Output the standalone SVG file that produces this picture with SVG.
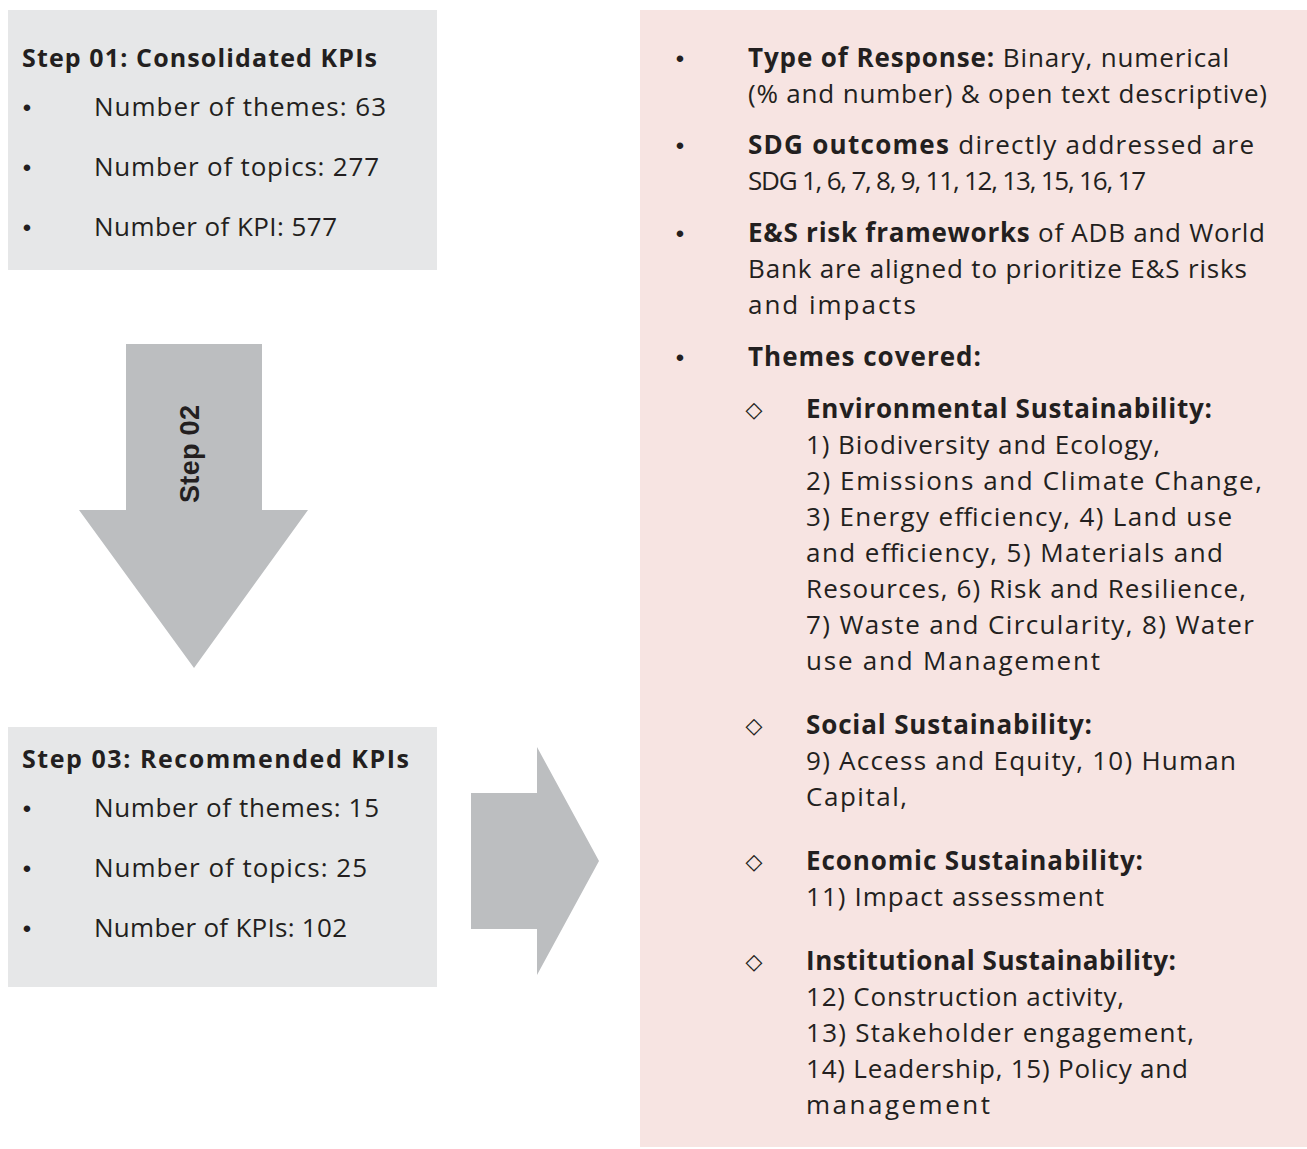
<svg xmlns="http://www.w3.org/2000/svg" width="1307" height="1149" viewBox="0 0 1307 1149">
  <style>
    .t { font-family: "Open Sans", "Noto Sans", "Liberation Sans", sans-serif; font-size: 26px; fill: #231F20; }
    .h { font-weight: 700; font-size: 25px; }
    .b { font-weight: 700; }
    .dot { font-family: "Liberation Sans", sans-serif; font-size: 24px; fill: #231F20; text-anchor: middle; }
    .dia { font-family: "DejaVu Sans", sans-serif; font-weight: 700; font-size: 22px; fill: #231F20; text-anchor: middle; }
    .box { fill: #E6E7E8; }
    .arrow { fill: #BCBEC0; }
    .step { font-family: "Liberation Sans", Arial, sans-serif; font-weight: 700; font-size: 27px; fill: #231F20; text-anchor: middle; }
  </style>

  <rect width="1307" height="1149" fill="#FFFFFF"/>

  <!-- Step 01 box -->
  <g id="step01">
    <rect class="box" x="8" y="10" width="429" height="260"/>
    <text class="t h" x="22" y="67" textLength="355">Step 01: Consolidated KPIs</text>
    <text class="dot" x="27" y="116">•</text>
    <text class="t" x="94" y="116" textLength="292">Number of themes: 63</text>
    <text class="dot" x="27" y="176">•</text>
    <text class="t" x="94" y="176" textLength="285">Number of topics: 277</text>
    <text class="dot" x="27" y="236">•</text>
    <text class="t" x="94" y="236" textLength="243">Number of KPI: 577</text>
  </g>

  <!-- Step 03 box -->
  <g id="step03">
    <rect class="box" x="8" y="727" width="429" height="260"/>
    <text class="t h" x="22" y="768" textLength="387">Step 03: Recommended KPIs</text>
    <text class="dot" x="27" y="817">•</text>
    <text class="t" x="94" y="817" textLength="285">Number of themes: 15</text>
    <text class="dot" x="27" y="877">•</text>
    <text class="t" x="94" y="877" textLength="273">Number of topics: 25</text>
    <text class="dot" x="27" y="937">•</text>
    <text class="t" x="94" y="937" textLength="253">Number of KPIs: 102</text>
  </g>

  <!-- Block arrows linking the steps -->
  <g id="connectors">
    <g id="step02-arrow">
      <polygon class="arrow" points="126,344 262,344 262,510 308,510 194,668 79,510 126,510"/>
      <text class="step" transform="translate(199,454) rotate(-90)" textLength="98">Step 02</text>
    </g>
    <g id="result-arrow">
      <polygon class="arrow" points="471,793 537,793 537,747 599,861 537,975 537,929 471,929"/>
    </g>
  </g>

  <!-- Summary panel -->
  <g id="summary">
    <rect x="640" y="10" width="667" height="1137" fill="#F7E4E2"/>

    <text class="dot" x="680" y="67">•</text>
    <text class="t" x="748" y="67" textLength="481"><tspan class="b">Type of Response:</tspan> Binary, numerical</text>
    <text class="t" x="748" y="103" textLength="519">(% and number) &amp; open text descriptive)</text>

    <text class="dot" x="680" y="154">•</text>
    <text class="t" x="748" y="154" textLength="506"><tspan class="b">SDG outcomes</tspan> directly addressed are</text>
    <text class="t" x="748" y="190" textLength="398">SDG 1, 6, 7, 8, 9, 11, 12, 13, 15, 16, 17</text>

    <text class="dot" x="680" y="242">•</text>
    <text class="t" x="748" y="242" textLength="517"><tspan class="b">E&amp;S risk frameworks</tspan> of ADB and World</text>
    <text class="t" x="748" y="278" textLength="499">Bank are aligned to prioritize E&amp;S risks</text>
    <text class="t" x="748" y="314" textLength="168">and impacts</text>

    <text class="dot" x="680" y="366">•</text>
    <text class="t b" x="748" y="366" textLength="233">Themes covered:</text>

    <text class="dia" x="754" y="417">◇</text>
    <text class="t b" x="806" y="418" textLength="406">Environmental Sustainability:</text>
    <text class="t" x="806" y="454" textLength="354">1) Biodiversity and Ecology,</text>
    <text class="t" x="806" y="490" textLength="456">2) Emissions and Climate Change,</text>
    <text class="t" x="806" y="526" textLength="426">3) Energy efficiency, 4) Land use</text>
    <text class="t" x="806" y="562" textLength="417">and efficiency, 5) Materials and</text>
    <text class="t" x="806" y="598" textLength="440">Resources, 6) Risk and Resilience,</text>
    <text class="t" x="806" y="634" textLength="448">7) Waste and Circularity, 8) Water</text>
    <text class="t" x="806" y="670" textLength="294">use and Management</text>

    <text class="dia" x="754" y="733">◇</text>
    <text class="t b" x="806" y="734" textLength="286">Social Sustainability:</text>
    <text class="t" x="806" y="770" textLength="430">9) Access and Equity, 10) Human</text>
    <text class="t" x="806" y="806" textLength="101">Capital,</text>

    <text class="dia" x="754" y="869">◇</text>
    <text class="t b" x="806" y="870" textLength="337">Economic Sustainability:</text>
    <text class="t" x="806" y="906" textLength="298">11) Impact assessment</text>

    <text class="dia" x="754" y="969">◇</text>
    <text class="t b" x="806" y="970" textLength="370">Institutional Sustainability:</text>
    <text class="t" x="806" y="1006" textLength="318">12) Construction activity,</text>
    <text class="t" x="806" y="1042" textLength="388">13) Stakeholder engagement,</text>
    <text class="t" x="806" y="1078" textLength="382">14) Leadership, 15) Policy and</text>
    <text class="t" x="806" y="1114" textLength="184">management</text>
  </g>
</svg>
